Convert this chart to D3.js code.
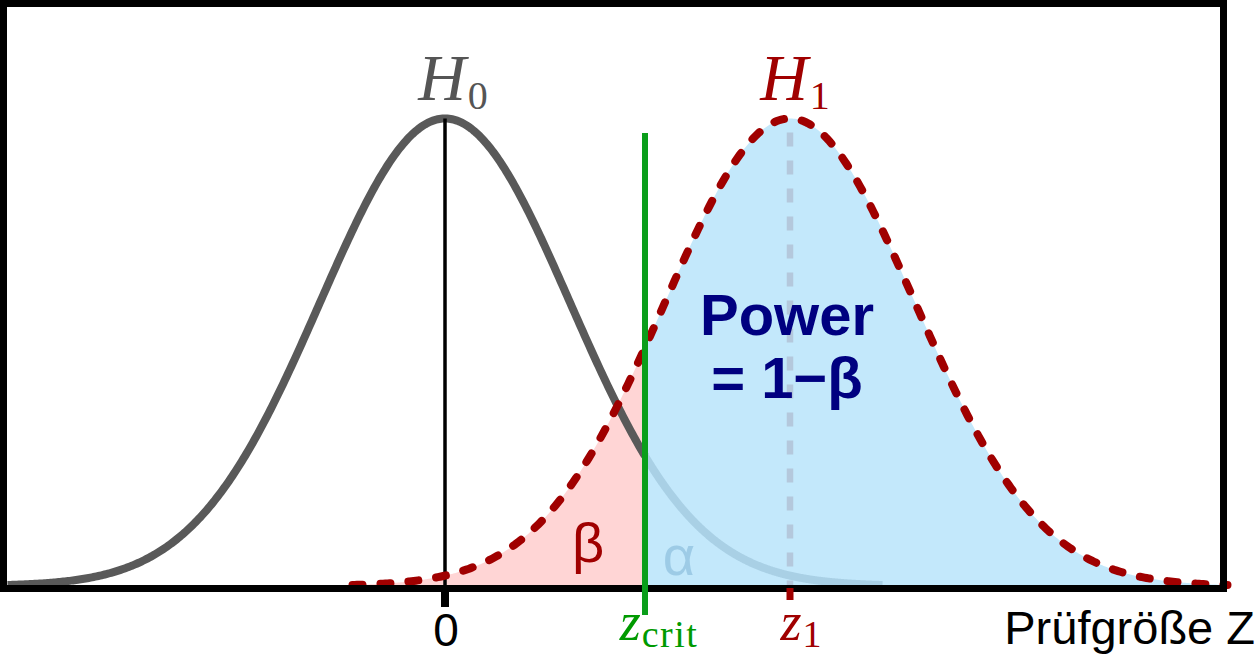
<!DOCTYPE html>
<html>
<head>
<meta charset="utf-8">
<script src="https://cdn.jsdelivr.net/npm/d3@7"></script>
<style>
  html, body { margin: 0; padding: 0; background: #fff; }
  svg { display: block; }
</style>
</head>
<body>
<svg id="chart" width="1257" height="655"></svg>
<script>
// ---- data ----
// two normal distributions of the test statistic Z (in units of sigma)
const hypotheses = ["H0", "H1"];
const means = [0, 2.76];
const sds = [1, 1];
const halfWidth = 3.5;            // curves drawn to +/- 3.5 sd
const zCrit = 1.6;                // critical value
const tickValues = [0, zCrit, 2.76];
const tickLabels = ["0", "z_crit", "z_1"];
const axisTitle = "Prüfgröße Z";
const areaLabels = ["β", "α"];
const powerLabel = ["Power", "= 1−β"];

// ---- setup ----
const svg = d3.select("#chart");
const x = d3.scaleLinear().domain([-3.5, 6.26]).range([7.5, 1227.5]);
const pdf = (z, m, s) => Math.exp(-0.5 * ((z - m) / s) ** 2) / (s * Math.sqrt(2 * Math.PI));
const y = d3.scaleLinear().domain([0, pdf(0, 0, 1)]).range([586, 118.5]);

function pts(m, s, a, b, n = 400) {
  return d3.range(n + 1).map(i => { const z = a + (b - a) * i / n; return [z, pdf(z, m, s)]; });
}
const line = d3.line().x(d => x(d[0])).y(d => y(d[1]));
const area = d3.area().x(d => x(d[0])).y0(y(0)).y1(d => y(d[1]));

const m0 = means[0], m1 = means[1];

// pink (beta) area
svg.append("path").attr("d", area(pts(m1, sds[1], m1 - halfWidth, zCrit)))
  .attr("fill", "#ffd5d5");
// blue (power) area
svg.append("path").attr("d", area(pts(m1, sds[1], zCrit, m1 + halfWidth)))
  .attr("fill", "#c3e8fb");

// H0 curve: left part solid gray, tail beyond zCrit faded
svg.append("path").attr("d", line(pts(m0, sds[0], m0 - halfWidth, zCrit)))
  .attr("fill", "none").attr("stroke", "#595959").attr("stroke-width", 8);
svg.append("path").attr("d", line(pts(m0, sds[0], zCrit, m0 + halfWidth)))
  .attr("fill", "none").attr("stroke", "#a9d0e5").attr("stroke-width", 8);

// H0 mean line
svg.append("line").attr("x1", x(m0)).attr("x2", x(m0))
  .attr("y1", y(pdf(m0, m0, 1))).attr("y2", y(0))
  .attr("stroke", "#000").attr("stroke-width", 3.5);

// H1 mean dashed (faded) line
svg.append("line").attr("x1", x(m1)).attr("x2", x(m1))
  .attr("y1", y(pdf(m1, m1, 1)) + 14).attr("y2", y(0))
  .attr("stroke", "#b4c8dc").attr("stroke-width", 6.5)
  .attr("stroke-dasharray", "14,14");

// H1 dashed curve
svg.append("path").attr("d", line(pts(m1, sds[1], m1 - halfWidth, m1 + halfWidth)))
  .attr("fill", "none").attr("stroke", "#a00000").attr("stroke-width", 8)
  .attr("stroke-linecap", "round").attr("stroke-dasharray", "10,18");

// frame
svg.append("rect").attr("x", 3.5).attr("y", 3.5).attr("width", 1220).attr("height", 585)
  .attr("fill", "none").attr("stroke", "#000").attr("stroke-width", 7);

// ticks
svg.append("line").attr("x1", x(tickValues[0])).attr("x2", x(tickValues[0]))
  .attr("y1", 588).attr("y2", 607).attr("stroke", "#000").attr("stroke-width", 8);
svg.append("line").attr("x1", x(tickValues[1])).attr("x2", x(tickValues[1]))
  .attr("y1", 133).attr("y2", 615).attr("stroke", "#0a9e1a").attr("stroke-width", 6);
svg.append("line").attr("x1", x(tickValues[2])).attr("x2", x(tickValues[2]))
  .attr("y1", 588).attr("y2", 600).attr("stroke", "#a00000").attr("stroke-width", 7);

const serif = "'Liberation Serif', 'DejaVu Serif', serif";
const sans = "'Liberation Sans', Arial, sans-serif";

// hypothesis labels
function hLabel(cx, sub, color) {
  const t = svg.append("text").attr("x", cx).attr("y", 100).attr("fill", color)
    .attr("text-anchor", "middle").attr("font-family", serif);
  t.append("tspan").attr("font-style", "italic").attr("font-size", 66).text("H");
  t.append("tspan").attr("font-size", 40).attr("dx", 2).attr("dy", 9).text(sub);
}
hLabel(x(m0) + 8, "0", "#555555");
hLabel(x(m1) + 5, "1", "#a00000");

// tick labels
svg.append("text").attr("x", x(tickValues[0]) + 1).attr("y", 646).attr("text-anchor", "middle")
  .attr("font-family", sans).attr("font-size", 46).attr("fill", "#000").text(tickLabels[0]);

const zc = svg.append("text").attr("x", x(tickValues[1]) + 14).attr("y", 640).attr("text-anchor", "middle")
  .attr("font-family", serif).attr("fill", "#009a00");
zc.append("tspan").attr("font-style", "italic").attr("font-size", 54).text("z");
zc.append("tspan").attr("font-size", 38).attr("dx", 1).attr("dy", 7)
  .attr("letter-spacing", 1.5).text("crit");

const z1t = svg.append("text").attr("x", x(tickValues[2]) + 11).attr("y", 640).attr("text-anchor", "middle")
  .attr("font-family", serif).attr("fill", "#a00000");
z1t.append("tspan").attr("font-style", "italic").attr("font-size", 54).text("z");
z1t.append("tspan").attr("font-size", 38).attr("dx", 1).attr("dy", 7).text("1");

svg.append("text").attr("x", 1255).attr("y", 644).attr("text-anchor", "end")
  .attr("font-family", sans).attr("font-size", 47).attr("fill", "#000").text(axisTitle);

// area labels
svg.append("text").attr("x", 588).attr("y", 562).attr("text-anchor", "middle")
  .attr("font-family", sans).attr("font-size", 56).attr("fill", "#a00000").text(areaLabels[0]);
svg.append("text").attr("x", 679).attr("y", 575).attr("text-anchor", "middle")
  .attr("font-family", sans).attr("font-size", 56).attr("fill", "#9dcbe6").text(areaLabels[1]);

// power label
svg.append("text").attr("x", 787).attr("y", 335).attr("text-anchor", "middle")
  .attr("font-family", sans).attr("font-weight", "bold").attr("font-size", 58)
  .attr("fill", "#000080").text(powerLabel[0]);
svg.append("text").attr("x", 787).attr("y", 398).attr("text-anchor", "middle")
  .attr("font-family", sans).attr("font-weight", "bold").attr("font-size", 58)
  .attr("fill", "#000080").text(powerLabel[1]);
</script>
</body>
</html>
